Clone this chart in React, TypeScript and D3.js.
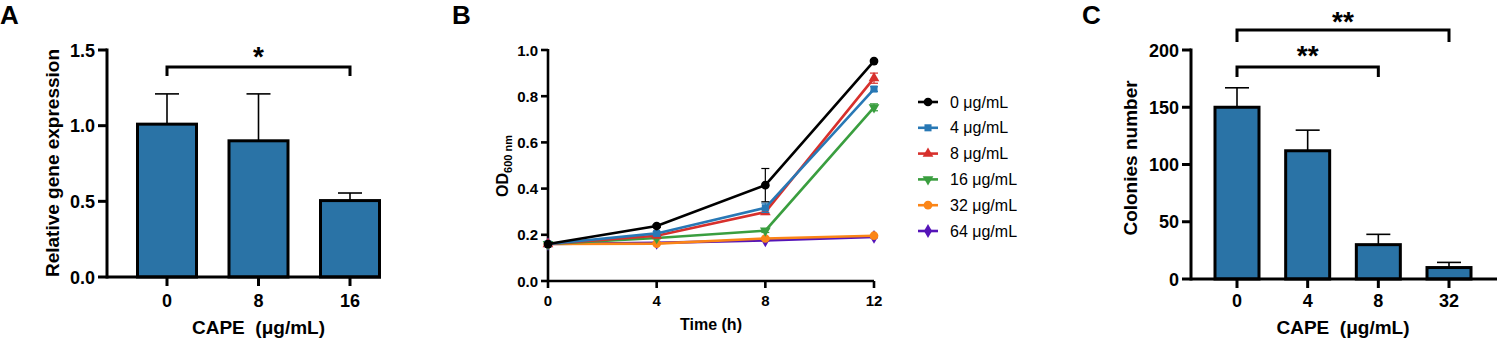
import * as d3 from "d3";

const FONT = "'Liberation Sans', Arial, sans-serif";
const BAR_FILL = "#2a73a6";

// Panel A: relative gene expression
const geneDoses = ["0", "8", "16"];
const geneMean = [1.01, 0.9, 0.505];
const geneErr = [0.2, 0.31, 0.05];
const geneTicks = [0, 0.5, 1.0, 1.5];

// Panel B: growth curves
const timePoints = [0, 4, 8, 12];
const seriesNames = ["0 μg/mL", "4 μg/mL", "8 μg/mL", "16 μg/mL", "32 μg/mL", "64 μg/mL"];
const seriesColors = ["#000000", "#2878b5", "#d7302c", "#3a9e3f", "#fb8517", "#5514b8"];
const seriesSymbols = ["circle", "square", "triangle", "triangleDown", "circle", "diamond"];
const od0 = [0.16, 0.238, 0.415, 0.952];
const od4 = [0.16, 0.206, 0.317, 0.831];
const od8 = [0.16, 0.196, 0.298, 0.878];
const od16 = [0.16, 0.186, 0.218, 0.752];
const od32 = [0.16, 0.162, 0.184, 0.196];
const od64 = [0.16, 0.165, 0.176, 0.191];
const odErr0 = [0.004, 0.006, 0.072, 0.006];
const odErr4 = [0.004, 0.008, 0.02, 0.01];
const odErr8 = [0.004, 0.006, 0.01, 0.022];
const odErr16 = [0.004, 0.004, 0.008, 0.015];
const odErr32 = [0.003, 0.004, 0.005, 0.005];
const odErr64 = [0.003, 0.003, 0.004, 0.004];
const odTicks = [0, 0.2, 0.4, 0.6, 0.8, 1.0];

// Panel C: colonies
const colonyDoses = ["0", "4", "8", "32"];
const colonyMean = [150, 112, 30, 10];
const colonyErr = [17, 18, 9, 4.5];
const colonyTicks = [0, 50, 100, 150, 200];

const symbolTypes: Record<string, any> = {
  circle: d3.symbolCircle,
  square: d3.symbolSquare,
  triangle: d3.symbolTriangle,
  triangleDown: d3.symbolTriangle,
  diamond: d3.symbolDiamond,
};

function Marker({ kind, x, y, color }: { kind: string; x: number; y: number; color: string }) {
  const size = kind === "circle" ? 60 : kind === "diamond" ? 55 : 50;
  const path = d3.symbol().type(symbolTypes[kind]).size(size)() || "";
  const rot = kind === "triangleDown" ? " rotate(180)" : "";
  return <path d={path} transform={`translate(${x},${y})${rot}`} fill={color} />;
}

type BarProps = {
  cats: string[];
  means: number[];
  errs: number[];
  ticks: number[];
  yMax: number;
  axisX: number;
  axisEnd: number;
  y0: number;
  y1: number;
  firstX: number;
  lastX: number;
  barW: number;
  fmt: (v: number) => string;
  yLabel: string;
  labelX: number;
  labelY: number;
};

function BarPanel(p: BarProps) {
  const x = d3.scalePoint<string>().domain(p.cats).range([p.firstX, p.lastX]);
  const y = d3.scaleLinear().domain([0, p.yMax]).range([p.y0, p.y1]);
  return (
    <g>
      {p.means.map((m, i) => {
        const cx = x(p.cats[i])!;
        return (
          <g key={i}>
            <line x1={cx} x2={cx} y1={y(m)} y2={y(m + p.errs[i])} stroke="#000" strokeWidth={1.6} />
            <line x1={cx - 12} x2={cx + 12} y1={y(m + p.errs[i])} y2={y(m + p.errs[i])} stroke="#000" strokeWidth={1.6} />
            <rect
              x={cx - p.barW / 2}
              y={y(m)}
              width={p.barW}
              height={y(0) - y(m)}
              fill={BAR_FILL}
              stroke="#000"
              strokeWidth={3}
            />
          </g>
        );
      })}
      <line x1={p.axisX} x2={p.axisX} y1={p.y1 - 1.5} y2={p.y0 + 1.5} stroke="#000" strokeWidth={3} />
      <line x1={p.axisX} x2={p.axisEnd} y1={p.y0} y2={p.y0} stroke="#000" strokeWidth={3} />
      {p.ticks.map((t) => (
        <g key={t}>
          <line x1={p.axisX - 9} x2={p.axisX} y1={y(t)} y2={y(t)} stroke="#000" strokeWidth={3} />
          <text x={p.axisX - 12} y={y(t) + 6.5} textAnchor="end" fontSize={18} fontWeight="bold">
            {p.fmt(t)}
          </text>
        </g>
      ))}
      {p.cats.map((c) => (
        <g key={c}>
          <line x1={x(c)} x2={x(c)} y1={p.y0} y2={p.y0 + 9} stroke="#000" strokeWidth={3} />
          <text x={x(c)} y={307} textAnchor="middle" fontSize={18} fontWeight="bold">
            {c}
          </text>
        </g>
      ))}
      <text
        transform={`translate(${p.labelX},${p.labelY}) rotate(-90)`}
        textAnchor="middle"
        fontSize={19}
        fontWeight="bold"
      >
        {p.yLabel}
      </text>
      <text x={(p.firstX + p.lastX) / 2} y={334} textAnchor="middle" fontSize={19} fontWeight="bold">
        CAPE{"\u00a0\u00a0"}(μg/mL)
      </text>
    </g>
  );
}

function Bracket({ xa, xb, y, drop, star, starY }: { xa: number; xb: number; y: number; drop: number; star: string; starY: number }) {
  return (
    <g>
      <path d={`M${xa},${y + drop} V${y} H${xb} V${y + drop}`} fill="none" stroke="#000" strokeWidth={3} />
      <text x={(xa + xb) / 2} y={starY} textAnchor="middle" fontSize={28} fontWeight="bold">
        {star}
      </text>
    </g>
  );
}

function GrowthPanel() {
  const x = d3.scaleLinear().domain([0, 12]).range([548, 874]);
  const y = d3.scaleLinear().domain([0, 1]).range([281, 50]);
  const values = [od0, od4, od8, od16, od32, od64];
  const errs = [odErr0, odErr4, odErr8, odErr16, odErr32, odErr64];
  const line = d3
    .line<number>()
    .x((_, i) => x(timePoints[i]))
    .y((d) => y(d));
  const order = [5, 4, 3, 2, 1, 0];
  return (
    <g>
      <line x1={548} x2={548} y1={49} y2={282} stroke="#000" strokeWidth={2.6} />
      <line x1={548} x2={874} y1={281} y2={281} stroke="#000" strokeWidth={2.6} />
      {odTicks.map((t) => (
        <g key={t}>
          <line x1={541} x2={548} y1={y(t)} y2={y(t)} stroke="#000" strokeWidth={2.6} />
          <text x={538} y={y(t) + 5.5} textAnchor="end" fontSize={15} fontWeight="bold">
            {t.toFixed(1)}
          </text>
        </g>
      ))}
      {timePoints.map((t) => (
        <g key={t}>
          <line x1={x(t)} x2={x(t)} y1={281} y2={288} stroke="#000" strokeWidth={2.6} />
          <text x={x(t)} y={306} textAnchor="middle" fontSize={15} fontWeight="bold">
            {t}
          </text>
        </g>
      ))}
      {order.map((s) => (
        <g key={s}>
          {values[s].map((v, i) => {
            const cx = x(timePoints[i]);
            const e = errs[s][i];
            return (
              <g key={i} stroke={seriesColors[s]} strokeWidth={1.2}>
                <line x1={cx} x2={cx} y1={y(v - e)} y2={y(v + e)} />
                <line x1={cx - 4} x2={cx + 4} y1={y(v + e)} y2={y(v + e)} />
                <line x1={cx - 4} x2={cx + 4} y1={y(v - e)} y2={y(v - e)} />
              </g>
            );
          })}
          <path d={line(values[s]) || ""} fill="none" stroke={seriesColors[s]} strokeWidth={2.6} />
          {values[s].map((v, i) => (
            <Marker key={i} kind={seriesSymbols[s]} x={x(timePoints[i])} y={y(v)} color={seriesColors[s]} />
          ))}
        </g>
      ))}
      <text transform="translate(508,166) rotate(-90)" textAnchor="middle" fontSize={16} fontWeight="bold">
        OD
        <tspan fontSize={11} dy={4}>
          600 nm
        </tspan>
      </text>
      <text x={711} y={330} textAnchor="middle" fontSize={16} fontWeight="bold">
        Time (h)
      </text>
      {seriesNames.map((n, i) => {
        const ly = 102 + i * 25.8;
        return (
          <g key={n}>
            <line x1={918} x2={938} y1={ly} y2={ly} stroke={seriesColors[i]} strokeWidth={2.6} />
            <Marker kind={seriesSymbols[i]} x={928} y={ly} color={seriesColors[i]} />
            <text x={950} y={ly + 5.5} fontSize={16}>
              {n}
            </text>
          </g>
        );
      })}
    </g>
  );
}

export default function App() {
  const xa = d3.scalePoint<string>().domain(geneDoses).range([167, 350]);
  const xc = d3.scalePoint<string>().domain(colonyDoses).range([1237, 1449]);
  return (
    <svg
      width={1500}
      height={342}
      style={{ position: "absolute", left: 0, top: 0, background: "#fff" }}
      fontFamily={FONT}
    >
      <rect width={1500} height={342} fill="#fff" />
      <text x={0} y={24} fontSize={26} fontWeight="bold">A</text>
      <text x={452} y={24} fontSize={26} fontWeight="bold">B</text>
      <text x={1082} y={24} fontSize={26} fontWeight="bold">C</text>

      <BarPanel
        cats={geneDoses}
        means={geneMean}
        errs={geneErr}
        ticks={geneTicks}
        yMax={1.5}
        axisX={107}
        axisEnd={381}
        y0={277}
        y1={50}
        firstX={167}
        lastX={350}
        barW={59}
        fmt={(v) => v.toFixed(1)}
        yLabel="Relative gene expression"
        labelX={59}
        labelY={163}
      />
      <Bracket xa={xa("0")!} xb={xa("16")!} y={67} drop={9} star="*" starY={66} />

      <GrowthPanel />

      <BarPanel
        cats={colonyDoses}
        means={colonyMean}
        errs={colonyErr}
        ticks={colonyTicks}
        yMax={200}
        axisX={1191}
        axisEnd={1497}
        y0={279}
        y1={50}
        firstX={1237}
        lastX={1449}
        barW={44}
        fmt={(v) => String(v)}
        yLabel="Colonies number"
        labelX={1137}
        labelY={158}
      />
      <Bracket xa={xc("0")!} xb={xc("32")!} y={30} drop={12} star="**" starY={31} />
      <Bracket xa={xc("0")!} xb={xc("8")!} y={67} drop={10} star="**" starY={65} />
    </svg>
  );
}
